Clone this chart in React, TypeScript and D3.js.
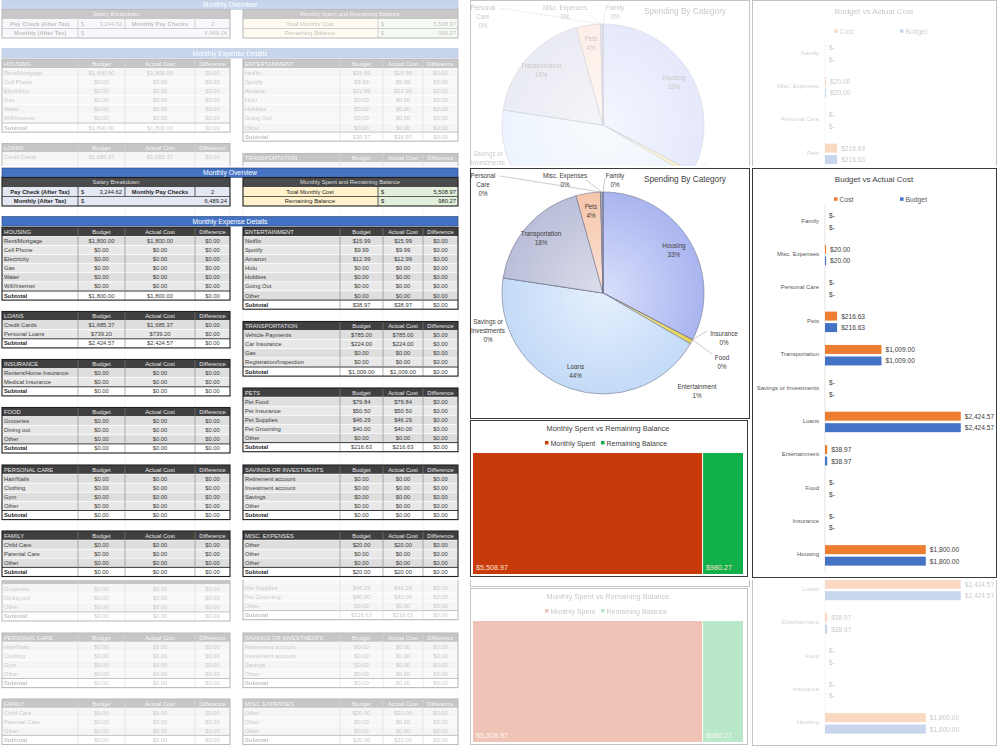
import React, { createContext, useContext } from 'react';
import * as d3 from 'd3';

const FONT = "'Liberation Sans', Arial, sans-serif";

// ---- overview numbers
const payCheckAfterTax = 3244.62;
const monthlyPayChecks = 2;
const monthlyAfterTax = 6489.24;
const totalMonthlyCost = 5508.97;
const remainingBalance = 980.27;

// ---- expense tables
const housingItems = ['Rent/Mortgage', 'Cell Phone', 'Electricity', 'Gas', 'Water', 'Wifi/Internet'];
const housingBudget = [1800, 0, 0, 0, 0, 0];
const housingActual = [1800, 0, 0, 0, 0, 0];

const loansItems = ['Credit Cards', 'Personal Loans'];
const loansBudget = [1685.37, 739.2];
const loansActual = [1685.37, 739.2];

const insuranceItems = ['Renters/Home Insurance', 'Medical Insurance'];
const insuranceBudget = [0, 0];
const insuranceActual = [0, 0];

const foodItems = ['Groceries', 'Dining out', 'Other'];
const foodBudget = [0, 0, 0];
const foodActual = [0, 0, 0];

const personalCareItems = ['Hair/Nails', 'Clothing', 'Gym', 'Other'];
const personalCareBudget = [0, 0, 0, 0];
const personalCareActual = [0, 0, 0, 0];

const familyItems = ['Child Care', 'Parental Care', 'Other'];
const familyBudget = [0, 0, 0];
const familyActual = [0, 0, 0];

const entertainmentItems = ['Netflix', 'Spotify', 'Amazon', 'Hulu', 'Hobbies', 'Going Out', 'Other'];
const entertainmentBudget = [15.99, 9.99, 12.99, 0, 0, 0, 0];
const entertainmentActual = [15.99, 9.99, 12.99, 0, 0, 0, 0];

const transportationItems = ['Vehicle Payments', 'Car Insurance', 'Gas', 'Registration/Inspection'];
const transportationBudget = [785, 224, 0, 0];
const transportationActual = [785, 224, 0, 0];

const petsItems = ['Pet Food', 'Pet Insurance', 'Pet Supplies', 'Pet Grooming', 'Other'];
const petsBudget = [79.84, 50.5, 46.29, 40, 0];
const petsActual = [79.84, 50.5, 46.29, 40, 0];

const savingsItems = ['Retirement account', 'Investment account', 'Savings', 'Other'];
const savingsBudget = [0, 0, 0, 0];
const savingsActual = [0, 0, 0, 0];

const miscItems = ['Other', 'Other', 'Other'];
const miscBudget = [20, 0, 0];
const miscActual = [20, 0, 0];

// ---- chart data
const categories = ['Housing', 'Insurance', 'Food', 'Entertainment', 'Loans', 'Savings or Investments',
  'Transportation', 'Pets', 'Personal Care', 'Misc. Expenses', 'Family'];
const categoryBudget = [1800, 0, 0, 38.97, 2424.57, 0, 1009, 216.63, 0, 20, 0];
const categoryCost = [1800, 0, 0, 38.97, 2424.57, 0, 1009, 216.63, 0, 20, 0];

const balanceLabels = ['Monthly Spent', 'Remaining Balance'];
const balanceValues = [5508.97, 980.27];

const DARK = '#404040';
const BLUE = '#4472c4';
const money = d3.format('$,.2f');
const plain = d3.format(',.2f');

const sliceColors = {
  'Housing': ['#d9dffb', '#aab5f0'],
  'Insurance': ['#dfe6f5', '#b4c3e6'],
  'Food': ['#eef3d8', '#cdd89a'],
  'Entertainment': ['#f8ef9e', '#e6d454'],
  'Loans': ['#e6f0fd', '#c3daf7'],
  'Savings or Investments': ['#e5e5e5', '#c2c2c2'],
  'Transportation': ['#dcdeeb', '#babed8'],
  'Pets': ['#fce3d5', '#f5c6ab'],
  'Personal Care': ['#e5e5e5', '#c2c2c2'],
  'Misc. Expenses': ['#dedede', '#b3b3b3'],
  'Family': ['#e5e5e5', '#c2c2c2'],
};

// which copy of the sheet is being drawn, so texts that fall outside its strip are left out
const Vis = createContext({ shift: 0, lo: -1e9, hi: 1e9 });
const Origin = createContext(0);

const T = ({ x, y, children, anchor = 'start', size = 5.8, fill = '#262626', weight = 'normal' }: any) => {
  const v = useContext(Vis);
  const oy = useContext(Origin);
  const ay = oy + y + v.shift;
  if (ay < v.lo || ay > v.hi) return null;
  return (
    <text x={x} y={y} fontSize={size} fill={fill} textAnchor={anchor} dominantBaseline="central"
      fontWeight={weight} fontFamily={FONT}>{children}</text>
  );
};

const ROW_H = 9.1;

function ExpenseTable({ x, y, widths, title, items, budget, actual }: any) {
  const xs = [x];
  widths.forEach((w: number) => xs.push(xs[xs.length - 1] + w));
  const total = xs[4] - x;
  const n = items.length;
  const subY = y + ROW_H * (n + 1);
  const mid = (i: number) => (xs[i] + xs[i + 1]) / 2;
  return (
    <g>
      <rect x={x} y={y} width={total} height={ROW_H} fill={DARK} />
      <T x={x + 2} y={y + ROW_H / 2} fill="#e6e6e6">{title}</T>
      <T x={mid(1)} y={y + ROW_H / 2} fill="#e6e6e6" anchor="middle">Budget</T>
      <T x={mid(2)} y={y + ROW_H / 2} fill="#e6e6e6" anchor="middle">Actual Cost</T>
      <T x={mid(3)} y={y + ROW_H / 2} fill="#e6e6e6" anchor="middle">Difference</T>
      {items.map((it: string, i: number) => {
        const ry = y + ROW_H * (i + 1);
        return (
          <g key={i}>
            <rect x={x} y={ry} width={total} height={ROW_H} fill={i % 2 ? '#e8e8e8' : '#dedede'}
              stroke="#fff" strokeWidth={0.6} />
            <T x={x + 2} y={ry + ROW_H / 2} fill="#3a3a3a">{it}</T>
            <T x={mid(1)} y={ry + ROW_H / 2} anchor="middle" fill="#3a3a3a">{money(budget[i])}</T>
            <T x={mid(2)} y={ry + ROW_H / 2} anchor="middle" fill="#3a3a3a">{money(actual[i])}</T>
            <T x={mid(3)} y={ry + ROW_H / 2} anchor="middle" fill="#3a3a3a">{money(budget[i] - actual[i])}</T>
          </g>
        );
      })}
      <rect x={x} y={subY} width={total} height={ROW_H} fill="#fff" />
      <line x1={x} x2={x + total} y1={subY} y2={subY} stroke="#222" strokeWidth={0.9} />
      <T x={x + 2} y={subY + ROW_H / 2} weight="bold">Subtotal</T>
      <T x={mid(1)} y={subY + ROW_H / 2} anchor="middle" fill="#3a3a3a">{money(d3.sum(budget))}</T>
      <T x={mid(2)} y={subY + ROW_H / 2} anchor="middle" fill="#3a3a3a">{money(d3.sum(actual))}</T>
      <T x={mid(3)} y={subY + ROW_H / 2} anchor="middle" fill="#3a3a3a">{money(d3.sum(budget) - d3.sum(actual))}</T>
      {[1, 2, 3].map(i => (
        <line key={i} x1={xs[i]} x2={xs[i]} y1={y} y2={subY + ROW_H} stroke="#7f7f7f" strokeWidth={0.6} />
      ))}
      <rect x={x} y={y} width={total} height={ROW_H * (n + 2)} fill="none" stroke="#1e1e1e" strokeWidth={1.1} />
    </g>
  );
}

const LEFT_W = [76, 47, 70, 35];
const RIGHT_W = [97, 43, 40, 35];

function Tables() {
  return (
    <g>
      {/* faint sheet grid */}
      {[78, 125, 195, 230, 243, 340, 383, 423, 458, 470].map(gx => (
        <line key={gx} x1={gx} x2={gx} y1={0} y2={750} stroke="#ececec" strokeWidth={0.6} />
      ))}
      {/* Monthly overview */}
      <rect x={2} y={168} width={456} height={9.3} fill={BLUE} stroke="#24406e" strokeWidth={0.6} />
      <T x={230} y={172.7} anchor="middle" fill="#fff" size={6.8}>Monthly Overview</T>

      <rect x={2} y={177.5} width={228} height={9.5} fill="#4a4a4a" />
      <T x={116} y={182.2} anchor="middle" fill="#dcdcdc">Salary Breakdown</T>
      <rect x={2} y={187} width={228} height={9.5} fill="#e4e8f2" />
      <rect x={2} y={196.5} width={228} height={9.5} fill="#e4e8f2" />
      <line x1={2} x2={230} y1={196.5} y2={196.5} stroke="#222" strokeWidth={0.7} />
      <line x1={78} x2={78} y1={187} y2={206} stroke="#222" strokeWidth={0.7} />
      <line x1={125} x2={125} y1={187} y2={196.5} stroke="#222" strokeWidth={0.7} />
      <line x1={195} x2={195} y1={187} y2={196.5} stroke="#222" strokeWidth={0.7} />
      <T x={40} y={191.8} anchor="middle" weight="bold">Pay Check (After Tax)</T>
      <T x={81} y={191.8}>$</T>
      <T x={122} y={191.8} anchor="end">{plain(payCheckAfterTax)}</T>
      <T x={160} y={191.8} anchor="middle" weight="bold">Monthly Pay Checks</T>
      <T x={212.5} y={191.8} anchor="middle">{monthlyPayChecks}</T>
      <T x={40} y={201.3} anchor="middle" weight="bold">Monthly (After Tax)</T>
      <T x={81} y={201.3}>$</T>
      <T x={227} y={201.3} anchor="end">{plain(monthlyAfterTax)}</T>
      <rect x={2} y={177.5} width={228} height={28.5} fill="none" stroke="#1e1e1e" strokeWidth={1.1} />

      <rect x={243} y={177.5} width={215} height={9.5} fill="#4a4a4a" />
      <T x={350} y={182.2} anchor="middle" fill="#dcdcdc">Monthly Spent and Remaining Balance</T>
      <rect x={243} y={187} width={135} height={19} fill="#fff2cc" />
      <rect x={378} y={187} width={80} height={19} fill="#e2efda" />
      <line x1={243} x2={458} y1={196.5} y2={196.5} stroke="#222" strokeWidth={0.7} />
      <line x1={378} x2={378} y1={187} y2={206} stroke="#222" strokeWidth={0.7} />
      <T x={310} y={191.8} anchor="middle">Total Monthly Cost</T>
      <T x={381} y={191.8}>$</T>
      <T x={456} y={191.8} anchor="end">{plain(totalMonthlyCost)}</T>
      <T x={310} y={201.3} anchor="middle">Remaining Balance</T>
      <T x={381} y={201.3}>$</T>
      <T x={456} y={201.3} anchor="end">{plain(remainingBalance)}</T>
      <rect x={243} y={177.5} width={215} height={28.5} fill="none" stroke="#1e1e1e" strokeWidth={1.1} />

      <rect x={2} y={216.5} width={456} height={9.5} fill={BLUE} stroke="#24406e" strokeWidth={0.6} />
      <T x={230} y={221.3} anchor="middle" fill="#fff" size={6.8}>Monthly Expense Details</T>

      <ExpenseTable x={2} y={227.3} widths={LEFT_W} title="HOUSING" items={housingItems} budget={housingBudget} actual={housingActual} />
      <ExpenseTable x={2} y={311.5} widths={LEFT_W} title="LOANS" items={loansItems} budget={loansBudget} actual={loansActual} />
      <ExpenseTable x={2} y={359.5} widths={LEFT_W} title="INSURANCE" items={insuranceItems} budget={insuranceBudget} actual={insuranceActual} />
      <ExpenseTable x={2} y={407.5} widths={LEFT_W} title="FOOD" items={foodItems} budget={foodBudget} actual={foodActual} />
      <ExpenseTable x={2} y={465} widths={LEFT_W} title="PERSONAL CARE" items={personalCareItems} budget={personalCareBudget} actual={personalCareActual} />
      <ExpenseTable x={2} y={531} widths={LEFT_W} title="FAMILY" items={familyItems} budget={familyBudget} actual={familyActual} />

      <ExpenseTable x={243} y={227.3} widths={RIGHT_W} title="ENTERTAINMENT" items={entertainmentItems} budget={entertainmentBudget} actual={entertainmentActual} />
      <ExpenseTable x={243} y={321.5} widths={RIGHT_W} title="TRANSPORTATION" items={transportationItems} budget={transportationBudget} actual={transportationActual} />
      <ExpenseTable x={243} y={388} widths={RIGHT_W} title="PETS" items={petsItems} budget={petsBudget} actual={petsActual} />
      <ExpenseTable x={243} y={465} widths={RIGHT_W} title="SAVINGS OR INVESTMENTS" items={savingsItems} budget={savingsBudget} actual={savingsActual} />
      <ExpenseTable x={243} y={531} widths={RIGHT_W} title="MISC. EXPENSES" items={miscItems} budget={miscBudget} actual={miscActual} />
    </g>
  );
}

// pie
const PIE_CX = 603, PIE_CY = 293, PIE_R = 101;
const outsideLabels: any = {
  'Insurance': { dx: 121, dy: 40, lines: ['Insurance'], lead: [-17, -2] },
  'Food': { dx: 119, dy: 64, lines: ['Food'], lead: [-10, -3] },
  'Entertainment': { dx: 94, dy: 93, lines: ['Entertainment'], lead: null },
  'Savings or Investments': { dx: -115, dy: 28, lines: ['Savings or', 'Investments'], lead: null },
  'Personal Care': { dx: -120, dy: -118, lines: ['Personal', 'Care'], lead: [17, 1] },
  'Misc. Expenses': { dx: -38, dy: -118, lines: ['Misc. Expenses'], lead: [21, 5] },
  'Family': { dx: 12, dy: -118, lines: ['Family'], lead: [-10, 3] },
};

function PieChart() {
  const total = d3.sum(categoryCost);
  const arcs = d3.pie<number>().sort(null).value(d => d)(categoryCost);
  const arc = d3.arc<any>().innerRadius(0).outerRadius(PIE_R);
  const labelArc = d3.arc<any>().innerRadius(PIE_R * 0.82).outerRadius(PIE_R * 0.82);
  const pct = d3.format('.0%');
  return (
    <g>
      <rect x={470.5} y={168.5} width={279} height={250} fill="#fff" stroke="#3a3a3a" strokeWidth={1} />
      <T x={685} y={179} anchor="middle" size={8.2} fill="#404040">Spending By Category</T>
      <Origin.Provider value={PIE_CY}>
        <g transform={`translate(${PIE_CX},${PIE_CY})`}>
          {arcs.map((a, i) => (
            <path key={i} d={arc(a) || ''} fill={`url(#grad${i})`} stroke="#707690" strokeWidth={0.6} />
          ))}
          {arcs.map((a, i) => {
            const name = categories[i];
            const p = pct(categoryCost[i] / total);
            const out = outsideLabels[name];
            if (!out) {
              const [lx, ly] = labelArc.centroid(a);
              return (
                <g key={i}>
                  <T x={lx} y={ly - 4.5} anchor="middle" size={6.3} fill="#404040">{name}</T>
                  <T x={lx} y={ly + 4.5} anchor="middle" size={6.3} fill="#404040">{p}</T>
                </g>
              );
            }
            const m = (a.startAngle + a.endAngle) / 2;
            const px = Math.sin(m) * PIE_R, py = -Math.cos(m) * PIE_R;
            const lines = [...out.lines, p];
            return (
              <g key={i}>
                {out.lead && (
                  <line x1={px} y1={py} x2={out.dx + out.lead[0]} y2={out.dy + out.lead[1]} stroke="#a6a6a6" strokeWidth={0.6} />
                )}
                {lines.map((l: string, k: number) => (
                  <T key={k} x={out.dx} y={out.dy + k * 9} anchor="middle" size={6.3} fill="#404040">{l}</T>
                ))}
              </g>
            );
          })}
        </g>
      </Origin.Provider>
    </g>
  );
}

function BalanceTreemap() {
  const root = d3.hierarchy<any>({ children: balanceLabels.map((n, i) => ({ name: n, value: balanceValues[i] })) })
    .sum((d: any) => d.value || 0);
  d3.treemap<any>().tile(d3.treemapDice).size([270, 121]).paddingInner(1)(root);
  const colors = ['#c93a0b', '#12b04b'];
  const leaves = root.leaves() as any[];
  return (
    <g>
      <rect x={470.5} y={420.5} width={277} height={156} fill="#fff" stroke="#3a3a3a" strokeWidth={1} />
      <T x={608} y={428.5} anchor="middle" size={7.4} fill="#404040">Monthly Spent vs Remaining Balance</T>
      <rect x={545} y={441} width={3.5} height={3.5} fill={colors[0]} />
      <T x={550.5} y={443} size={7} fill="#404040">Monthly Spent</T>
      <rect x={601} y={441} width={3.5} height={3.5} fill={colors[1]} />
      <T x={606.5} y={443} size={7} fill="#404040">Remaining Balance</T>
      <Origin.Provider value={453}>
        <g transform="translate(473,453)">
          {leaves.map((l, i) => (
            <g key={i}>
              <rect x={l.x0} y={l.y0} width={l.x1 - l.x0} height={l.y1 - l.y0} fill={colors[i]} />
              <T x={l.x0 + 3} y={l.y1 - 7} size={7.2} fill="#fbe3cf">{money(l.value)}</T>
            </g>
          ))}
        </g>
      </Origin.Provider>
    </g>
  );
}

function BudgetBars() {
  const order = [...categories].reverse();
  const y = d3.scaleBand().domain(order).range([205, 572]);
  const sub = d3.scaleBand().domain(['Cost', 'Budget']).range([6.5, 27]).paddingInner(0.22);
  const x = d3.scaleLinear().domain([0, 2500]).range([825, 965]);
  const series = [
    { key: 'Cost', values: categoryCost, color: '#ed7d31' },
    { key: 'Budget', values: categoryBudget, color: '#4472c4' },
  ];
  return (
    <g>
      <rect x={752.5} y={168.5} width={244} height={409} fill="#fff" stroke="#3a3a3a" strokeWidth={1} />
      <T x={874} y={179} anchor="middle" size={8} fill="#404040">Budget vs Actual Cost</T>
      <rect x={834} y={197.3} width={3.5} height={3.5} fill="#ed7d31" />
      <T x={839.5} y={199} size={6.8} fill="#595959">Cost</T>
      <rect x={900} y={197.3} width={3.5} height={3.5} fill="#4472c4" />
      <T x={905.5} y={199} size={6.8} fill="#595959">Budget</T>
      <line x1={825} x2={825} y1={205} y2={572} stroke="#d9d9d9" strokeWidth={0.7} />
      <g clipPath="url(#barClip)">
        {order.map(c => (
          <T key={c} x={819} y={(y(c) || 0) + y.bandwidth() / 2 - 1} anchor="end" size={6} fill="#595959">{c}</T>
        ))}
        {series.map(s => categories.map((c, i) => {
          const top = (y(c) || 0) + (sub(s.key) || 0);
          const v = s.values[i];
          return (
            <g key={s.key + c}>
              {v > 0 && <rect x={x(0)} y={top} width={x(v) - x(0)} height={sub.bandwidth()} fill={s.color} />}
              <T x={x(v) + 4} y={top + sub.bandwidth() / 2} size={6.6} fill="#404040">{v > 0 ? money(v) : '$-'}</T>
            </g>
          );
        }))}
      </g>
    </g>
  );
}

function Dashboard({ shift, lo, hi }: any) {
  return (
    <Vis.Provider value={{ shift, lo, hi }}>
      <g>
        <Tables />
        <PieChart />
        <BalanceTreemap />
        <BudgetBars />
      </g>
    </Vis.Provider>
  );
}

export default function App() {
  return (
    <svg width={1000} height={750} style={{ position: 'absolute', left: 0, top: 0 }}>
      <defs>
        {categories.map((c, i) => (
          <radialGradient key={c} id={`grad${i}`} gradientUnits="userSpaceOnUse" cx={0} cy={0} r={PIE_R}>
            <stop offset="0%" stopColor={(sliceColors as any)[c][0]} />
            <stop offset="100%" stopColor={(sliceColors as any)[c][1]} />
          </radialGradient>
        ))}
        <clipPath id="barClip"><rect x={752} y={168} width={245} height={410} /></clipPath>
        <clipPath id="clipTop"><rect x={0} y={0} width={1000} height={166} /></clipPath>
        <clipPath id="clipMid"><rect x={0} y={166} width={1000} height={414} /></clipPath>
        <clipPath id="clipBot"><rect x={0} y={580} width={1000} height={170} /></clipPath>
        <filter id="soft"><feGaussianBlur stdDeviation={0.5} /></filter>
      </defs>
      <rect x={0} y={0} width={1000} height={750} fill="#fff" />
      <g clipPath="url(#clipTop)">
        <g transform="translate(0,-168)" opacity={0.3} filter="url(#soft)">
          <Dashboard shift={-168} lo={2} hi={163} />
        </g>
      </g>
      <g clipPath="url(#clipMid)"><Dashboard shift={0} lo={169} hi={577} /></g>
      <g clipPath="url(#clipBot)">
        <g transform="translate(0,168)" opacity={0.3} filter="url(#soft)">
          <Dashboard shift={168} lo={583} hi={748} />
        </g>
      </g>
    </svg>
  );
}
